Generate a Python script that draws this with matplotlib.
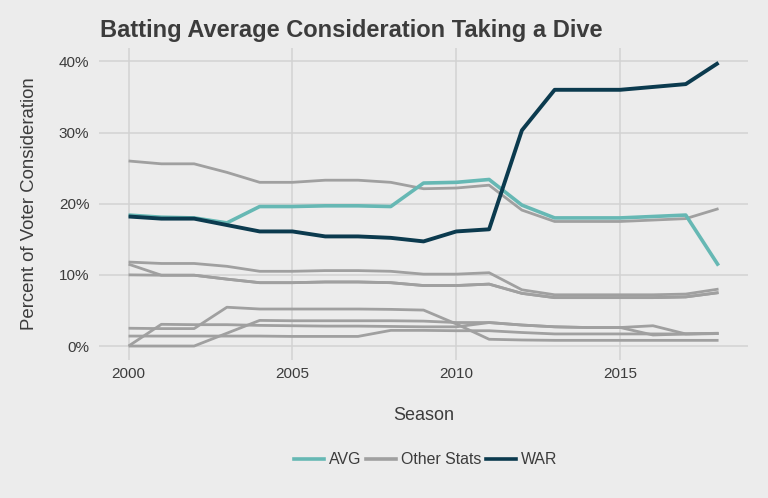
import matplotlib.pyplot as plt
from matplotlib.lines import Line2D

plt.rcParams['font.family'] = ['Liberation Sans', 'DejaVu Sans']

years = list(range(2000, 2019))

avg = [18.4, 18.1, 18.0, 17.3, 19.6, 19.6, 19.7, 19.7, 19.6, 22.9,
       23.0, 23.4, 19.8, 18.0, 18.0, 18.0, 18.2, 18.4, 11.3]
war = [18.2, 17.9, 17.9, 17.0, 16.1, 16.1, 15.4, 15.4, 15.2, 14.7,
       16.1, 16.4, 30.3, 36.0, 36.0, 36.0, 36.4, 36.8, 39.8]

# the other stats, all drawn in gray
other1 = [26.0, 25.6, 25.6, 24.4, 23.0, 23.0, 23.3, 23.3, 23.0, 22.1,
          22.2, 22.6, 19.1, 17.5, 17.5, 17.5, 17.7, 17.9, 19.3]
other2 = [11.8, 11.6, 11.6, 11.2, 10.5, 10.5, 10.6, 10.6, 10.5, 10.1,
          10.1, 10.3, 7.9, 7.2, 7.2, 7.2, 7.2, 7.3, 8.0]
other3 = [11.5, 9.95, 9.95, 9.4, 8.9, 8.9, 9.0, 9.0, 8.9, 8.5,
          8.5, 8.7, 7.4, 6.8, 6.8, 6.8, 6.8, 6.9, 7.5]
other4 = [10.0, 9.95, 9.95, 9.4, 8.9, 8.9, 9.0, 9.0, 8.9, 8.5,
          8.5, 8.7, 7.4, 6.8, 6.8, 6.8, 6.8, 6.9, 7.5]
other5 = [0.0, 3.05, 3.0, 3.0, 2.9, 2.85, 2.8, 2.8, 2.75, 2.7,
          2.7, 3.3, 2.95, 2.7, 2.6, 2.6, 1.55, 1.7, 1.75]
other6 = [0.0, 0.0, 0.0, 1.8, 3.6, 3.55, 3.55, 3.55, 3.55, 3.5,
          3.3, 3.3, 2.95, 2.7, 2.6, 2.6, 2.85, 1.7, 1.75]
other7 = [2.5, 2.45, 2.45, 5.45, 5.2, 5.2, 5.2, 5.2, 5.15, 5.05,
          3.1, 0.95, 0.85, 0.8, 0.8, 0.8, 0.8, 0.8, 0.8]
other8 = [1.4, 1.4, 1.4, 1.4, 1.4, 1.35, 1.35, 1.35, 2.2, 2.2,
          2.15, 2.15, 1.9, 1.7, 1.7, 1.7, 1.7, 1.7, 1.8]
others = [other1, other2, other3, other4, other5, other6, other7, other8]

xticks = [2000, 2005, 2010, 2015]
yticks = [0, 10, 20, 30, 40]

bg = '#ececec'
txt = '#3c3c3c'
c_avg = '#66b8b4'
c_war = '#0b3a4e'
c_oth = '#a0a0a0'

fig = plt.figure(figsize=(7.68, 4.98), dpi=100, facecolor=bg)
ax = fig.add_axes([0.129, 0.277, 0.845, 0.627], facecolor=bg)

for o in others:
    ax.plot(years, o, color=c_oth, lw=2.0, solid_capstyle='butt')
ax.plot(years, avg, color=c_avg, lw=2.6, solid_capstyle='butt')
ax.plot(years, war, color=c_war, lw=2.8, solid_capstyle='butt')

ax.set_xlim(1999.1, 2018.9)
ax.set_ylim(-1.97, 41.9)
ax.set_xticks(xticks)
ax.set_yticks(yticks)
ax.set_yticklabels([str(v) + '%' for v in yticks])
ax.grid(True, color='#d2d2d2', lw=1.1)
ax.set_axisbelow(True)
for s in ax.spines.values():
    s.set_visible(False)
ax.tick_params(axis='y', length=0, labelsize=11, labelcolor=txt, pad=7)
ax.tick_params(axis='x', length=0, labelsize=11, labelcolor=txt, pad=5)

ax.set_xlabel('Season', fontsize=13, color=txt, labelpad=19)
ax.set_ylabel('Percent of Voter Consideration', fontsize=13.4, color=txt, labelpad=15)

fig.text(0.130, 0.926, 'Batting Average Consideration Taking a Dive',
         fontsize=17, fontweight='bold', color=txt, va='baseline', ha='left')

handles = [Line2D([], [], color=c_avg, lw=2.6),
           Line2D([], [], color=c_oth, lw=2.6),
           Line2D([], [], color=c_war, lw=2.6)]
fig.legend(handles, ['AVG', 'Other Stats', 'WAR'], loc='center',
           bbox_to_anchor=(0.554, 0.077), ncol=3, frameon=False,
           fontsize=11.4, labelcolor=txt, handlelength=1.9, handletextpad=0.3,
           columnspacing=0.3)

fig.savefig('out.png', dpi=100, facecolor=bg)
